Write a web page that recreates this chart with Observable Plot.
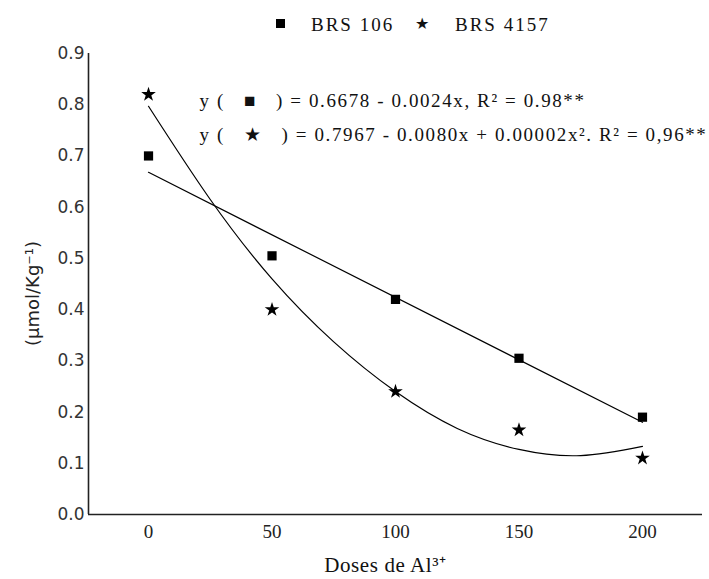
<!DOCTYPE html>
<html><head><meta charset="utf-8">
<script src="https://cdn.jsdelivr.net/npm/d3@7"></script>
<script src="https://cdn.jsdelivr.net/npm/@observablehq/plot@0.6"></script>
<style>
body{margin:0;background:#fff;}
#wrap{position:relative;width:709px;height:579px;background:#fff;}
#legend{position:relative;height:40px;font-family:"Liberation Serif",serif;font-size:19px;color:#111;}
#legend .t{position:absolute;line-height:19px;top:15px;letter-spacing:2px;white-space:nowrap;}
#legend .sq{position:absolute;width:9px;height:9px;background:#000;left:276px;top:19px;}
#legend .st{position:absolute;font-family:"DejaVu Sans",sans-serif;font-size:16px;line-height:16px;top:16px;}
</style></head><body>
<div id="wrap"><div id="legend"></div><div id="chart"></div></div>
<script>
// data
const doses = [0, 50, 100, 150, 200];
const brs106 = [0.70, 0.505, 0.42, 0.305, 0.19];
const brs4157 = [0.82, 0.40, 0.24, 0.165, 0.11];
// fitted quadratic curve for BRS 4157, as drawn in the picture
const curveDose = [0, 25, 50, 75, 100, 125, 150, 175, 200];
const curveVal = [0.797, 0.615, 0.46, 0.337, 0.24, 0.168, 0.127, 0.115, 0.133];
const seriesNames = ["BRS 106", "BRS 4157"];
const xTicks = [0, 50, 100, 150, 200];
const yTicks = [0, 0.1, 0.2, 0.3, 0.4, 0.5, 0.6, 0.7, 0.8, 0.9];
const equations = [
  "y (   \u25A0   ) = 0.6678 - 0.0024x, R\u00B2 = 0.98**",
  "y (   \u2605   ) = 0.7967 - 0.0080x + 0.00002x\u00B2. R\u00B2 = 0,96**"
];
const xLabel = "Doses de Al\u00B3\u207A";
const yLabel = "(\u00B5mol/Kg\u207B\u00B9)";
const xDomain = [-24.3, 224.3];
const yDomain = [0, 0.9];

// legend
const lg = document.getElementById("legend");
lg.innerHTML = `<div class="sq"></div><span class="t" style="left:311px">${seriesNames[0]}</span>` +
  `<span class="st" style="left:415px">\u2605</span><span class="t" style="left:455px">${seriesNames[1]}</span>`;

const sq = doses.map((d, i) => ({x: d, y: brs106[i]}));
const st = doses.map((d, i) => ({x: d, y: brs4157[i]}));
const curve = curveDose.map((d, i) => ({x: d, y: curveVal[i]}));

const chart = Plot.plot({
  width: 709, height: 539,
  marginTop: 13, marginBottom: 65, marginLeft: 88, marginRight: 7,
  style: {fontFamily: "Liberation Serif", background: "#fff", color: "#111"},
  x: {domain: xDomain},
  y: {domain: yDomain},
  marks: [
    Plot.axisY(yTicks, {tickSize: 0, tickPadding: 4, tickFormat: d3.format(".1f"),
      fontFamily: "DejaVu Sans", fontSize: 17, color: "#333", label: null}),
    Plot.axisX(xTicks, {tickSize: 0, tickPadding: 10, fontSize: 19, color: "#222", label: null}),
    Plot.ruleY([yDomain[0]], {stroke: "#222", strokeWidth: 1.6}),
    Plot.ruleX([xDomain[0]], {stroke: "#222", strokeWidth: 1.6}),
    Plot.linearRegressionY(sq, {x: "x", y: "y", ci: 0, stroke: "#000", strokeWidth: 1.2}),
    Plot.line(curve, {x: "x", y: "y", curve: "natural", stroke: "#000", strokeWidth: 1.2}),
    Plot.dot(sq, {x: "x", y: "y", symbol: "square", r: 5.2, fill: "#000", stroke: null}),
    Plot.dot(st, {x: "x", y: "y", symbol: "star", r: 4.6, fill: "#000", stroke: null}),
    Plot.text([equations[0]], {frameAnchor: "top-left", dx: 111, dy: 40, textAnchor: "start",
      fontSize: 19, fill: "#111", text: d => d}),
    Plot.text([equations[1]], {frameAnchor: "top-left", dx: 111, dy: 74, textAnchor: "start",
      fontSize: 19, fill: "#111", text: d => d}),
    Plot.text([xLabel], {frameAnchor: "bottom", dx: -10, dy: 57, fontSize: 21, fill: "#111",
      text: d => d}),
    Plot.text([yLabel], {frameAnchor: "left", dx: -55, dy: 62, rotate: -90, fontSize: 18,
      fontFamily: "DejaVu Sans", fill: "#222", text: d => d})
  ]
});
// letter spacing to match the wide text of the reference
d3.select(chart).selectAll("text").each(function() {
  const t = this.textContent;
  if (equations.includes(t)) this.style.letterSpacing = "1.6px";
  else if (t === xLabel) this.style.letterSpacing = "0.6px";
});
document.getElementById("chart").appendChild(chart);
</script>
</body></html>
